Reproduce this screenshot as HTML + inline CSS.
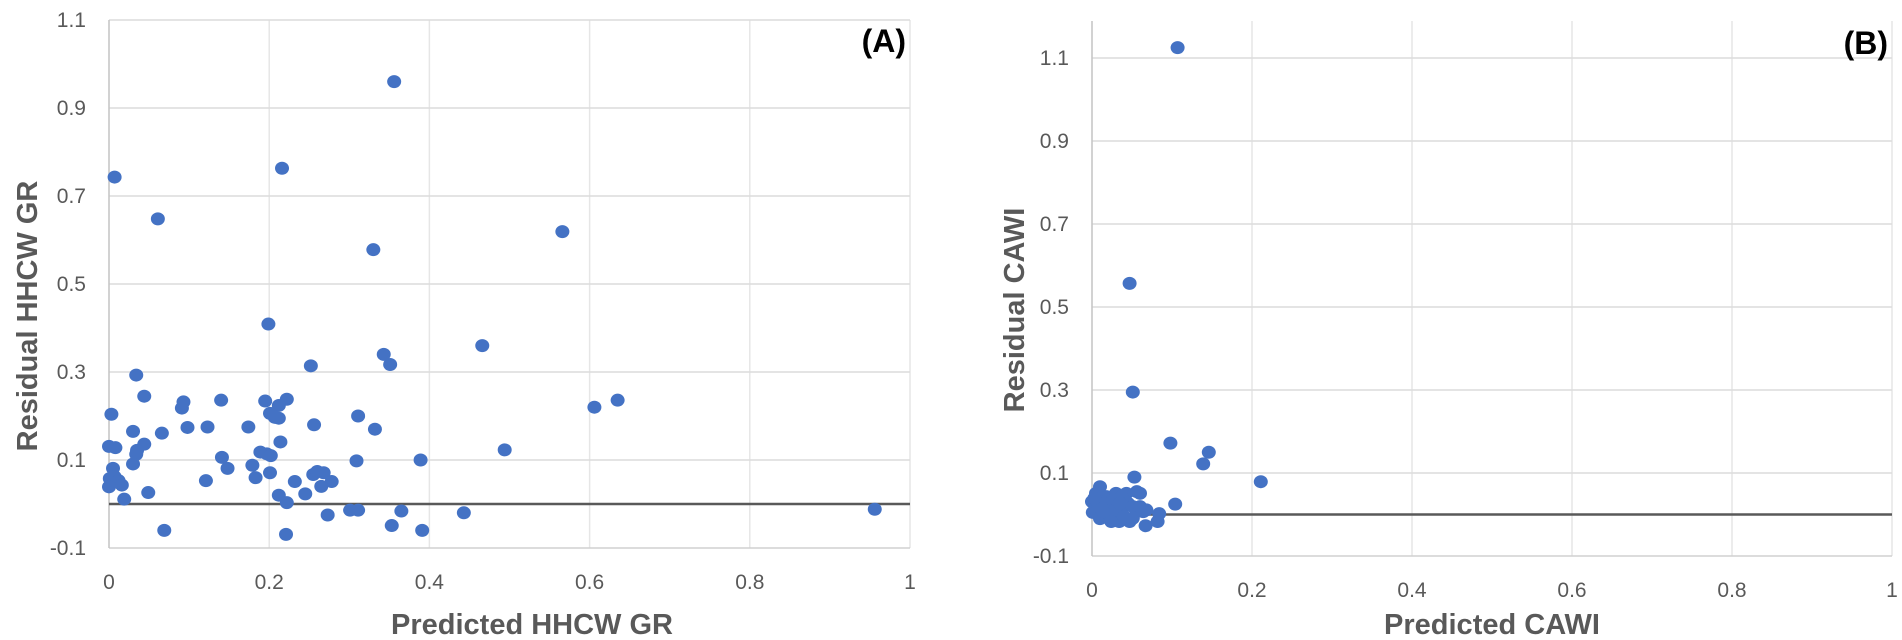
<!DOCTYPE html>
<html><head><meta charset="utf-8"><style>
html,body{margin:0;padding:0;background:#fff;}
svg{display:block;font-family:"Liberation Sans",sans-serif;}
</style></head><body>
<svg id="chart" width="1902" height="640" viewBox="0 0 1902 640"></svg>
<script>
const xTicks = [0, 0.2, 0.4, 0.6, 0.8, 1];
const xTickLabels = ["0", "0.2", "0.4", "0.6", "0.8", "1"];
const yTicks = [-0.1, 0.1, 0.3, 0.5, 0.7, 0.9, 1.1];
const yTickLabels = ["-0.1", "0.1", "0.3", "0.5", "0.7", "0.9", "1.1"];
const predA = [.356,.007,.061,.216,.330,.199,.343,.351,.252,.034,.003,.044,.093,.091,.098,.123,.14,.195,.222,.212,.201,.207,.212,.256,.174,.311,.332,.066,.03,.214,0,.008,.044,.035,.034,.03,.141,.148,.189,.197,.202,.179,.183,.201,.309,.121,.005,.001,.007,.012,0,.016,.049,.019,.232,.245,.212,.222,.255,.26,.268,.278,.265,.273,.301,.311,.353,.069,.221,.365,.389,.391,.443,.466,.494,.566,.606,.635,.956];
const residA = [.96,.743,.648,.763,.578,.409,.34,.317,.314,.293,.204,.245,.232,.218,.174,.175,.236,.234,.238,.224,.206,.197,.195,.18,.175,.2,.17,.161,.165,.141,.131,.128,.136,.122,.113,.091,.106,.081,.118,.114,.11,.088,.06,.071,.098,.053,.081,.058,.062,.053,.039,.043,.026,.011,.051,.023,.02,.003,.067,.074,.071,.051,.04,-.025,-.014,-.014,-.049,-.06,-.069,-.016,.1,-.06,-.02,.36,.123,.619,.22,.236,-.012];
const predB = [.107,.047,.051,.211,.139,.146,.098,.053,.104,.067,.082,.084,.01,0,.001,.01,.018,.03,.043,.056,.06,.047,.034,.022,.039,.056,.064,.008,.016,.026,.037,.045,.051,.029,.014,.005,.04,.051,.06,.068,.024,.003,.035];
const residB = [1.125,.557,.295,.079,.122,.15,.172,.09,.025,-.027,-.017,.002,.067,.031,.005,-.01,.043,.051,.051,.055,.051,-.017,-.017,0,.019,.011,.007,.019,.027,.035,.043,.027,.019,.011,.007,.051,-.005,-.009,.019,.011,-.017,.039,.027];

const NS = "http://www.w3.org/2000/svg";
const svg = document.getElementById("chart");
function el(tag, attrs, parent) {
  const e = document.createElementNS(NS, tag);
  for (const k in attrs) e.setAttribute(k, attrs[k]);
  (parent || svg).appendChild(e);
  return e;
}
function panel(cfg) {
  const g = el("g", {});
  
  
  const sx = v => cfg.x0 + (v - 0) / 1 * (cfg.x1 - cfg.x0);
  const sy = v => cfg.yTop + (1.1 - v) / 1.2 * (cfg.yBot - cfg.yTop);
  xTicks.forEach((t, i) => {
    if (i === 0) return;
    const l = el("line", {x1: sx(t), x2: sx(t), y1: cfg.plotTop, y2: cfg.yBot, stroke: "#e6e6e6", "stroke-width": 1.5}, g);
    
    
  });
  yTicks.forEach((t, i) => {
    const l = el("line", {x1: cfg.x0, x2: cfg.x1, y1: sy(t), y2: sy(t), stroke: i === 0 ? "#d0d0d0" : "#dcdcdc", "stroke-width": 1.5}, g);
    
    
  });
  const ax = el("line", {x1: cfg.x0, x2: cfg.x0, y1: cfg.plotTop, y2: cfg.yBot, stroke: "#c4c4c4", "stroke-width": 1.5}, g);
  
  
  const zl = el("line", {x1: cfg.x0, x2: cfg.x1, y1: sy(0), y2: sy(0), stroke: "#595959", "stroke-width": 2.5}, g);
  
  
  xTicks.forEach((t, i) => {
    const tx = el("text", {x: sx(t), y: cfg.yBot + 41, "text-anchor": "middle", "font-size": 21, fill: "#595959"}, g);
    tx.textContent = xTickLabels[i];
    
    
  });
  yTicks.forEach((t, i) => {
    const tx = el("text", {x: cfg.x0 - 23, y: sy(t) + 7, "text-anchor": "end", "font-size": 21, fill: "#595959"}, g);
    tx.textContent = yTickLabels[i];
    
    
  });
  cfg.xs.forEach((xv, i) => {
    const c = el("ellipse", {cx: sx(xv), cy: sy(cfg.ys[i]), rx: 7, ry: 6.5, fill: "#4472C4"}, g);
    
    
  });
  const xt = el("text", {x: cfg.xtX, y: 634, "text-anchor": "middle", "font-size": 29, "font-weight": "bold", fill: "#595959"}, g);
  xt.textContent = cfg.xTitle;
  
  
  const yt = el("text", {x: 0, y: 0, "text-anchor": "middle", "font-size": 29, "font-weight": "bold", fill: "#595959", transform: `translate(${cfg.ytX},${cfg.ytY}) rotate(-90)`}, g);
  yt.textContent = cfg.yTitle;
  
  
  const pl = el("text", {x: cfg.x1 - 4, y: cfg.labY, "text-anchor": "end", "font-size": 32, "font-weight": "bold", fill: "#000"}, g);
  pl.textContent = cfg.label;
  
  
}
panel({name: "panel-a", x0: 109, x1: 910, yTop: 20, yBot: 548, plotTop: 20, xs: predA, ys: residA,
  xTitle: "Predicted HHCW GR", yTitle: "Residual HHCW GR", xtX: 532, ytX: 37, ytY: 316, label: "(A)", labY: 52});
panel({name: "panel-b", x0: 1092, x1: 1892, yTop: 58, yBot: 556, plotTop: 21, xs: predB, ys: residB,
  xTitle: "Predicted CAWI", yTitle: "Residual CAWI", xtX: 1492, ytX: 1024, ytY: 310, label: "(B)", labY: 54});
</script>
</body></html>
